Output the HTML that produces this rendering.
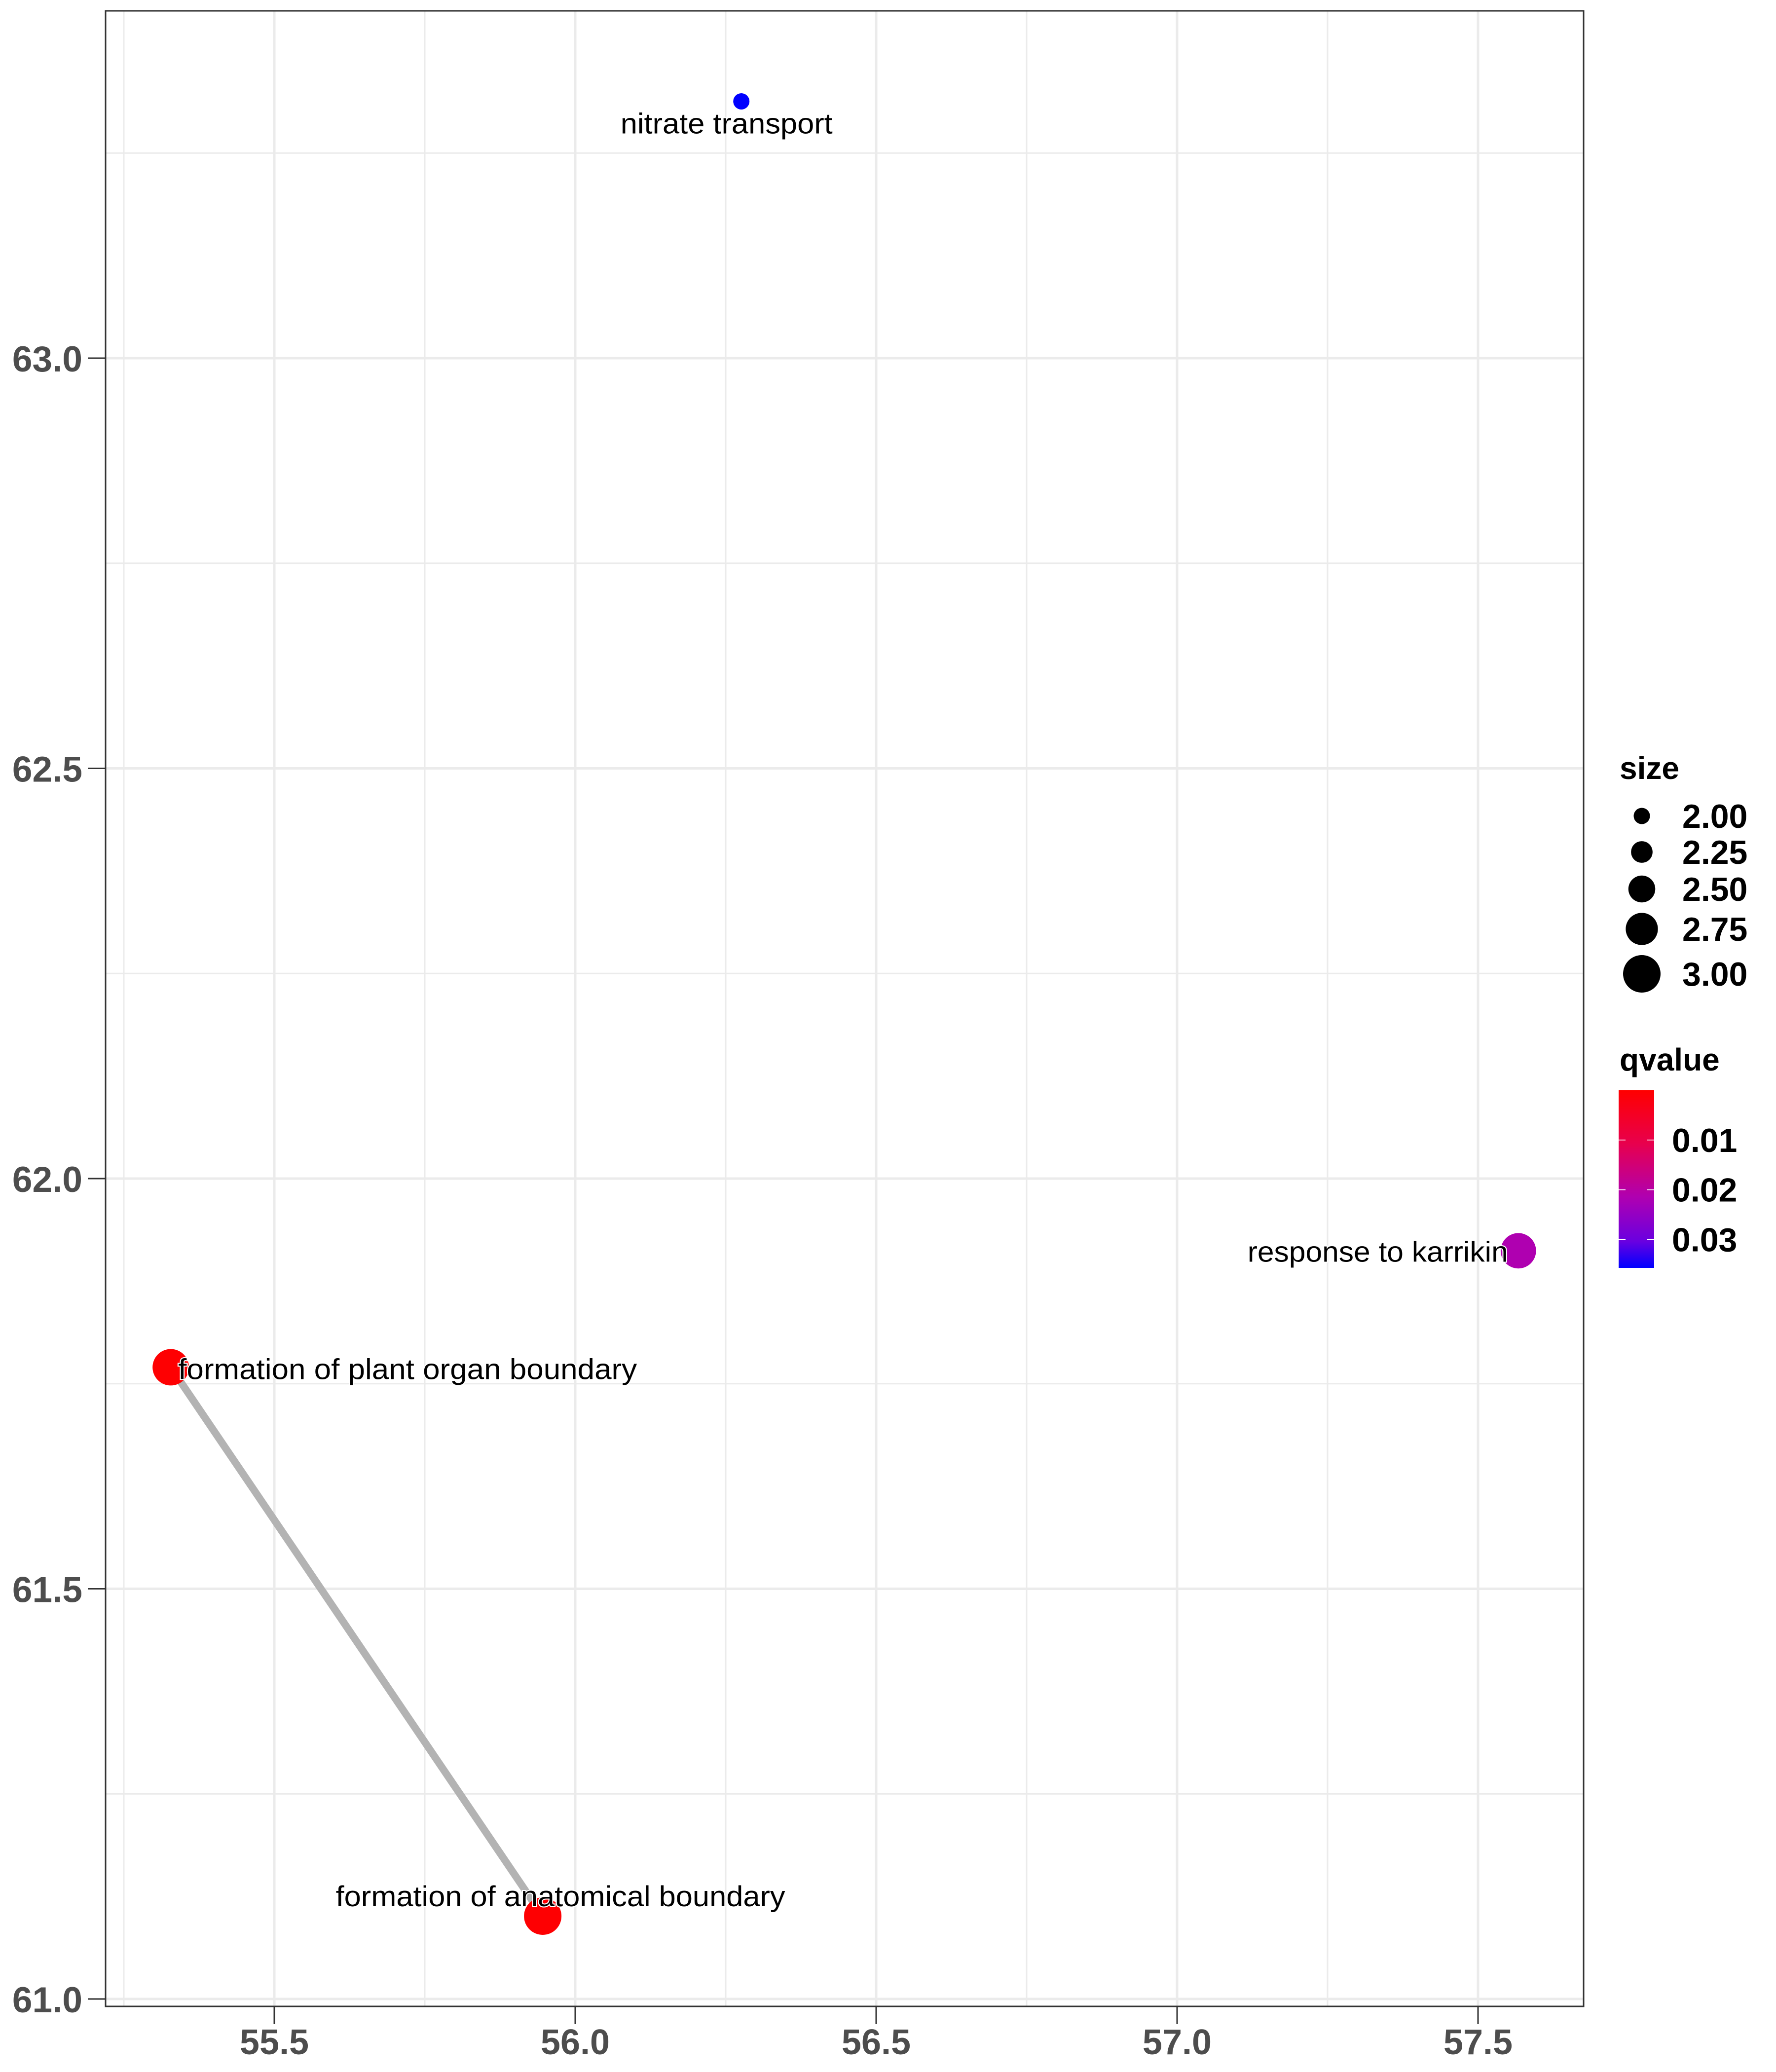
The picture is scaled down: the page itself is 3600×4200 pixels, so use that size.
<!DOCTYPE html>
<html><head><meta charset="utf-8"><style>
html,body{margin:0;padding:0;background:#fff;}
svg{display:block;}
</style></head><body>
<svg id="chart" width="3600" height="4200" viewBox="0 0 3600 4200" xmlns="http://www.w3.org/2000/svg" font-family="'Liberation Sans', sans-serif">
<defs>
<linearGradient id="qgrad" x1="0" y1="0" x2="0" y2="1">
<stop offset="0" stop-color="#ff0000"/>
<stop offset="0.3" stop-color="#e8004d"/>
<stop offset="0.6" stop-color="#b000b0"/>
<stop offset="0.85" stop-color="#6a00e0"/>
<stop offset="1" stop-color="#0000ff"/>
</linearGradient>
</defs>
<rect x="0" y="0" width="3600" height="4200" fill="#fff"/>
<g id="grid"></g>
<g id="edges"></g>
<g id="points"></g>
<g id="labels"></g>
<rect x="214" y="22" width="2996" height="4045" fill="none" stroke="#333" stroke-width="3"/>
<g id="axes"></g>
<g id="legend"></g>
</svg>
<script>
const names = ["nitrate transport","response to karrikin","formation of plant organ boundary","formation of anatomical boundary"];
const xVals = [56.276, 57.567, 55.328, 55.946];
const yVals = [63.313, 61.912, 61.770, 61.101];
const sizeVals = [2.0, 2.9, 2.95, 3.0];
const qVals = [0.0357, 0.0215, 0.0003, 0.0003];
const edgeFrom = [2];
const edgeTo = [3];
const xTicks = [55.5, 56.0, 56.5, 57.0, 57.5];
const xTickLabels = ["55.5","56.0","56.5","57.0","57.5"];
const yTicks = [61.0, 61.5, 62.0, 62.5, 63.0];
const yTickLabels = ["61.0","61.5","62.0","62.5","63.0"];
const sizeLegendVals = [2.00, 2.25, 2.50, 2.75, 3.00];
const sizeLegendLabels = ["2.00","2.25","2.50","2.75","3.00"];
const qLegendVals = [0.01, 0.02, 0.03];
const qLegendLabels = ["0.01","0.02","0.03"];

const NS = "http://www.w3.org/2000/svg";
const X = v => 556 + (v - 55.5) * 1220;
const Y = v => 4052 - (v - 61.0) * 1663;
const R = s => 16.5 + (s - 2.0) * 21.5;
const qMin = 0, qMax = 0.0357;
const gStops = [0, 0.3, 0.6, 0.85, 1];
const gCols = [[255,0,0],[232,0,77],[176,0,176],[106,0,224],[0,0,255]];
function qColor(q){
  const t = Math.max(0, Math.min(1, (q - qMin) / (qMax - qMin)));
  let i = 0;
  while (i < gStops.length - 2 && t > gStops[i+1]) i++;
  const f = (t - gStops[i]) / (gStops[i+1] - gStops[i]);
  const c = gCols[i].map((v, k) => Math.round(v + (gCols[i+1][k] - v) * f));
  return `rgb(${c[0]},${c[1]},${c[2]})`;
}
function mk(tag, attrs, parent){
  const e = document.createElementNS(NS, tag);
  for (const k in attrs) e.setAttribute(k, attrs[k]);
  parent.appendChild(e);
  return e;
}
const grid = document.getElementById('grid');
const axes = document.getElementById('axes');
for (let v = 55.25; X(v) <= 3210; v += 0.5) {
  const l = mk('line', {x1:X(v), x2:X(v), y1:22, y2:4067, stroke:'#ebebeb', 'stroke-width':3}, grid);
  
  
}
for (let v = 61.25; Y(v) >= 22; v += 0.5) {
  const l = mk('line', {x1:214, x2:3210, y1:Y(v), y2:Y(v), stroke:'#ebebeb', 'stroke-width':3}, grid);
  
  
}
xTicks.forEach((v, i) => {
  const g = mk('line', {x1:X(v), x2:X(v), y1:22, y2:4067, stroke:'#ebebeb', 'stroke-width':5}, grid);
  
  
  const t = mk('line', {x1:X(v), x2:X(v), y1:4067, y2:4103, stroke:'#333', 'stroke-width':3}, axes);
  
  
  const tx = mk('text', {x:X(v), y:4164, 'text-anchor':'middle', 'font-size':72, 'font-weight':'bold', fill:'#4d4d4d'}, axes);
  tx.textContent = xTickLabels[i];
  
  
});
yTicks.forEach((v, i) => {
  const g = mk('line', {x1:214, x2:3210, y1:Y(v), y2:Y(v), stroke:'#ebebeb', 'stroke-width':5}, grid);
  
  
  const t = mk('line', {x1:178, x2:214, y1:Y(v), y2:Y(v), stroke:'#333', 'stroke-width':3}, axes);
  
  
  const tx = mk('text', {x:167, y:Y(v) + 27, 'text-anchor':'end', 'font-size':73, 'font-weight':'bold', fill:'#4d4d4d'}, axes);
  tx.textContent = yTickLabels[i];
  
  
});
const edges = document.getElementById('edges');
edgeFrom.forEach((a, i) => {
  const b = edgeTo[i];
  const l = mk('line', {x1:X(xVals[a]), y1:Y(yVals[a]), x2:X(xVals[b]), y2:Y(yVals[b]), stroke:'#b3b3b3', 'stroke-width':15}, edges);
  
  
});
const pts = document.getElementById('points');
names.forEach((n, i) => {
  const c = mk('circle', {cx:X(xVals[i]), cy:Y(yVals[i]), r:R(sizeVals[i]), fill:qColor(qVals[i])}, pts);
  
  
});
const labs = document.getElementById('labels');
const labDx = [-30, -21, 15, 36];
const labDy = [65, 22, 24, -20];
const labAnchor = ['middle','end','start','middle'];
const labLen = [430, 528, 930, 911];
names.forEach((n, i) => {
  const t = mk('text', {x:X(xVals[i]) + labDx[i], y:Y(yVals[i]) + labDy[i], 'text-anchor':labAnchor[i], 'font-size':58, fill:'#000', stroke:'#fff', 'stroke-width':4, 'paint-order':'stroke', textLength:labLen[i], lengthAdjust:'spacingAndGlyphs'}, labs);
  t.textContent = n;
  
  
});
const leg = document.getElementById('legend');
const st = mk('text', {x:3283, y:1579, 'font-size':64, 'font-weight':'bold', fill:'#000'}, leg);
st.textContent = 'size';


const sizeY = [1654, 1727, 1802, 1883, 1974];
sizeLegendVals.forEach((s, i) => {
  const c = mk('circle', {cx:3328, cy:sizeY[i], r:R(s), fill:'#000'}, leg);
  
  
  const t = mk('text', {x:3410, y:sizeY[i] + 24, 'font-size':68, 'font-weight':'bold', fill:'#000'}, leg);
  t.textContent = sizeLegendLabels[i];
  
  
});
const qt = mk('text', {x:3283, y:2170, 'font-size':64, 'font-weight':'bold', fill:'#000'}, leg);
qt.textContent = 'qvalue';


const bar = mk('rect', {x:3281, y:2210, width:72, height:360, fill:'url(#qgrad)'}, leg);


const QY = q => 2210 + (q - qMin) / (qMax - qMin) * 360;
qLegendVals.forEach((q, i) => {
  const a = mk('line', {x1:3281, x2:3295, y1:QY(q), y2:QY(q), stroke:'#fff', 'stroke-width':1.5}, leg);
  
  
  const b = mk('line', {x1:3339, x2:3353, y1:QY(q), y2:QY(q), stroke:'#fff', 'stroke-width':1.5}, leg);
  
  
  const t = mk('text', {x:3389, y:QY(q) + 24, 'font-size':68, 'font-weight':'bold', fill:'#000'}, leg);
  t.textContent = qLegendLabels[i];
  
  
});
</script>
</body></html>
